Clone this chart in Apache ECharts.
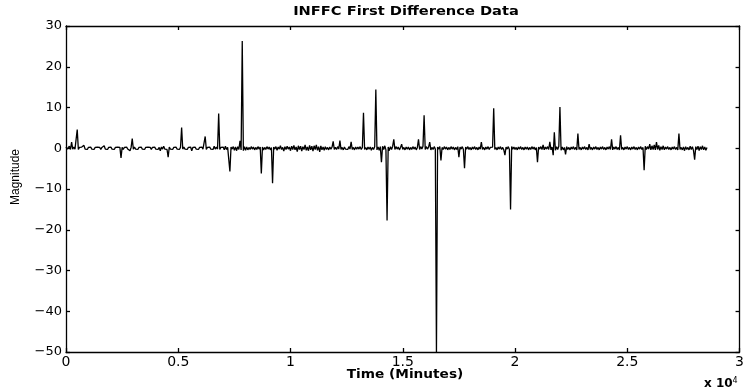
<!DOCTYPE html>
<html>
<head>
<meta charset="utf-8">
<script src="https://cdn.jsdelivr.net/npm/echarts@6/dist/echarts.min.js"></script>
<style>html,body{margin:0;padding:0;background:#fff}#c{width:747px;height:392px}</style>
</head>
<body>
<div id="c"></div>
<script>
// ---- data ----
const titleText = 'INFFC First Difference Data';
const xAxisName = 'Time (Minutes)';
const yAxisName = 'Magnitude';
const xTickLabels = ['0', '0.5', '1', '1.5', '2', '2.5', '3'];
const sampleStep = 50; // minutes between samples
const values = [
  0.3,-0.2,0.2,0.5,-0.3,1.5,-0.2,0.3,-0.2,0.2,4.6,-0.3,0.2,-0.2,0.3,-0.1,0.7,-0.2,0.2,-0.3,
  0.2,-0.2,0.3,-0.2,0.1,-0.3,0.2,-0.2,0.3,-0.1,0.2,-0.3,0.2,-0.2,0.6,-0.2,0.2,-0.3,0.2,-0.1,
  0.3,-0.2,0.2,-0.3,0.2,-0.2,0.3,-0.1,0.2,-2.4,0.2,-0.3,0.2,-0.2,0.3,-0.2,0.2,-0.6,0.2,2.4,
  -0.2,0.3,-0.2,0.2,-0.3,0.2,-0.1,0.3,-0.2,0.2,-0.3,0.2,-0.2,0.3,-0.1,0.2,-0.3,0.2,-0.2,0.3,
  -0.2,0.2,-0.3,0.2,-0.6,0.3,-0.2,0.5,-0.2,0.2,-0.3,-2.2,0.3,-0.2,0.2,-0.3,0.2,-0.2,0.3,-0.2,
  0.2,-0.3,0.2,5.1,-0.2,0.3,-0.2,0.2,-0.3,0.2,-0.2,0.3,-0.6,0.2,-0.2,0.3,-0.2,0.2,-0.3,0.2,
  -0.2,0.3,-0.2,0.2,2.9,-0.3,0.2,-0.2,0.3,-0.2,0.2,-0.3,0.5,-0.2,0.3,-0.2,8.5,-0.3,0.2,-0.2,
  0.3,-0.4,0.5,-0.3,0.2,-0.2,-5.7,0.3,-0.2,0.4,-0.5,0.3,-0.6,0.4,-0.3,1.8,-0.4,26.3,-0.6,0.4,
  -0.5,0.3,-0.4,0.2,-0.3,0.4,-0.2,0.3,-0.4,0.2,-0.3,0.4,-0.2,0.3,-6.2,0.3,-0.4,0.2,-0.3,0.4,
  -0.2,0.3,-0.4,0.2,-8.6,0.3,-0.2,0.4,-0.5,0.3,-0.2,0.6,-0.3,0.2,-0.7,0.4,-0.3,0.5,-0.2,0.3,
  -0.6,0.5,-0.3,0.7,-0.4,0.3,-0.8,0.6,-0.3,0.5,-0.7,0.4,-0.3,0.8,-0.5,0.3,-0.6,0.7,-0.4,0.5,
  -0.7,0.6,-0.3,0.8,-0.5,0.4,-0.9,0.6,-0.4,0.3,-0.5,0.4,-0.3,0.2,-0.4,0.3,-0.2,0.3,1.7,-0.3,
  0.2,-0.3,0.4,-0.2,1.9,-0.3,0.2,-0.4,0.3,-0.2,0.2,-0.3,0.4,-0.2,1.6,-0.3,0.2,-0.4,0.3,-0.2,
  0.3,-0.2,0.4,-0.3,0.2,8.7,-0.3,0.2,-0.4,0.3,-0.2,0.3,-0.5,0.2,-0.3,0.4,14.4,-0.4,0.3,-0.5,
  0.4,-3.4,0.5,-0.3,0.6,-0.4,-17.7,0.3,-0.6,0.4,-0.3,0.5,2.2,-0.3,0.4,-0.2,0.3,-0.4,0.2,1.0,
  -0.3,0.2,-0.4,0.3,-0.2,0.3,-0.4,0.2,-0.3,0.4,-0.2,0.3,-0.4,0.2,2.2,-0.3,0.4,-0.2,0.5,8.1,
  -0.3,0.4,-0.2,0.3,1.5,-0.4,0.2,-0.3,0.4,-0.2,-50,0.3,-0.2,0.4,-3.0,0.2,-0.3,0.4,-0.2,0.3,
  -0.4,0.2,-0.3,0.4,-0.2,0.3,-0.4,0.2,-0.3,0.4,-2.2,0.3,-0.2,0.4,-0.3,-4.9,0.3,-0.2,0.4,-0.3,
  0.2,-0.4,0.3,-0.2,0.4,-0.3,0.2,-0.4,0.3,-0.2,1.5,-0.3,0.2,-0.4,0.3,-0.2,0.4,-0.3,0.2,-0.2,
  0.3,9.8,-0.3,0.2,-0.4,0.3,-0.2,0.4,-0.3,0.2,-0.4,-1.7,0.3,-0.2,0.4,-0.3,-15.0,0.4,-0.2,0.3,
  -0.3,0.2,-0.4,0.3,-0.2,0.4,-0.3,0.2,-0.4,0.3,-0.2,0.3,-0.4,0.2,-0.3,0.4,-0.2,0.3,-0.4,0.2,
  -3.4,0.3,-0.2,0.4,-0.3,0.8,-0.4,0.3,-0.2,0.4,-0.3,1.6,-0.4,0.3,-1.7,3.9,-0.5,0.4,-0.3,0.5,
  10.1,-0.5,0.3,-0.4,0.2,-1.5,0.4,-0.3,0.2,-0.4,0.3,-0.2,0.4,-0.3,0.2,-0.4,3.6,-0.3,0.2,-0.4,
  0.3,-0.2,0.4,-0.3,0.2,-0.4,1.0,-0.3,0.2,-0.4,0.3,-0.2,0.4,-0.3,0.2,-0.4,0.3,-0.2,0.4,-0.3,
  0.2,-0.4,0.3,-0.2,0.4,-0.3,2.2,-0.4,0.3,-0.2,0.4,-0.3,0.2,-0.4,3.2,-0.3,0.2,-0.4,0.3,-0.2,
  0.4,-0.3,0.2,-0.4,0.3,-0.2,0.4,-0.3,0.2,-0.4,0.3,-0.2,0.4,-0.3,0.2,-5.4,0.5,-0.3,0.4,-0.2,
  1.0,-0.4,0.6,-0.3,0.8,-0.4,1.5,-0.3,0.7,-0.5,0.4,-0.3,0.6,-0.4,0.3,-0.2,0.4,-0.3,0.2,-0.4,
  0.3,-0.2,0.4,-0.3,0.2,-0.4,3.6,-0.3,0.2,-0.4,0.3,-0.6,0.4,-0.3,0.2,-0.4,0.5,-0.3,0.4,-0.6,
  -2.8,0.4,-0.3,0.5,-0.6,0.4,-0.3,0.6,-0.4,0.3,-0.5,0.2
];

// ---- chart ----
const FONT = 'DejaVu Sans';
const chart = echarts.init(document.getElementById('c'), null, {renderer: 'canvas'});
const seriesData = values.map((v, i) => [i * sampleStep, v]);
const axisLine = {show: true, onZero: false, lineStyle: {color: '#000', width: 1.3}};
const tick = {show: true, inside: true, length: 4, lineStyle: {color: '#000', width: 1.3}};
const xLabelFmt = (v) => xTickLabels[Math.round(v / 5000)] ?? '';
const yLabelFmt = (v) => String(v).replace('-', '\u2212');

chart.setOption({
  animation: false,
  backgroundColor: '#fff',
  grid: {left: 66, right: 4, top: 26, bottom: 40},
  xAxis: [{
    type: 'value', min: 0, max: 30000, interval: 5000, position: 'bottom',
    axisLine, axisTick: tick, splitLine: {show: false},
    axisLabel: {formatter: xLabelFmt, color: '#000', fontFamily: FONT, fontSize: 14, margin: 3}
  }, {
    type: 'value', min: 0, max: 30000, interval: 5000, position: 'top',
    axisLine, axisTick: tick, splitLine: {show: false}, axisLabel: {show: false}
  }],
  yAxis: [{
    type: 'value', min: -50, max: 30, interval: 10, position: 'left',
    axisLine, axisTick: tick, splitLine: {show: false},
    axisLabel: {formatter: yLabelFmt, color: '#000', fontFamily: FONT, fontSize: 13, margin: 4}
  }, {
    type: 'value', min: -50, max: 30, interval: 10, position: 'right',
    axisLine, axisTick: tick, splitLine: {show: false}, axisLabel: {show: false}
  }],
  graphic: [
    {type: 'text', x: 406, y: 12, scaleX: 1.22,
     style: {text: titleText, fill: '#000', font: 'bold 12px "DejaVu Sans"', textAlign: 'center', textVerticalAlign: 'middle'}},
    {type: 'text', x: 405, y: 375, scaleX: 1.14,
     style: {text: xAxisName, fill: '#000', font: 'bold 12px "DejaVu Sans"', textAlign: 'center', textVerticalAlign: 'middle'}},
    {type: 'text', x: 16, y: 177, rotation: Math.PI / 2,
     style: {text: yAxisName, fill: '#000', font: '12px "Liberation Sans Narrow", "Liberation Sans"', textAlign: 'center', textVerticalAlign: 'middle'}},
    {type: 'text', left: 704, top: 377,
     style: {rich: {a: {fontFamily: FONT, fontSize: 12, fontWeight: 'bold', fill: '#000'}, s: {fontFamily: FONT, fontSize: 8, fill: '#000', verticalAlign: 'top', padding: [0, 0, 6, 0]}},
             text: '{a|x 10}{s|4}'}}
  ],
  series: [{
    type: 'line', xAxisIndex: 0, yAxisIndex: 0, data: seriesData,
    showSymbol: false, symbol: 'none', clip: true,
    lineStyle: {color: '#000', width: 1.3}
  }]
});
</script>
</body>
</html>
